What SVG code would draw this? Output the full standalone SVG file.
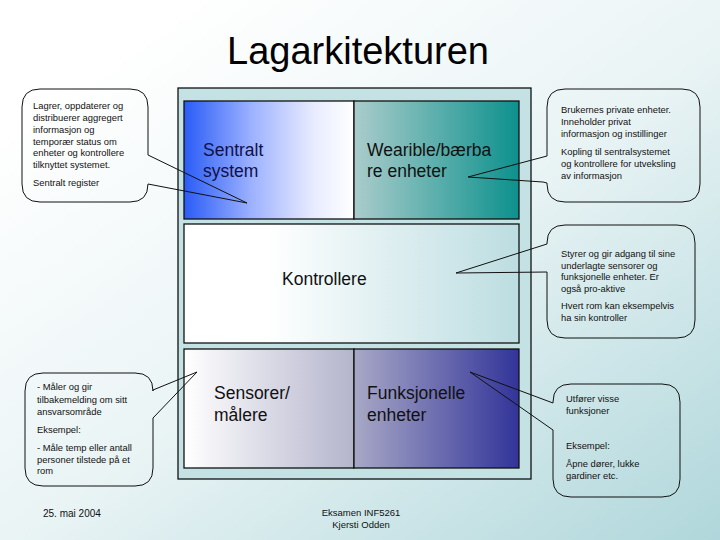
<svg xmlns="http://www.w3.org/2000/svg" width="720" height="540" viewBox="0 0 720 540">
  <defs>
    <linearGradient id="bg" x1="0.15" y1="0.1" x2="1" y2="1">
      <stop offset="0" stop-color="#ffffff"/>
      <stop offset="0.45" stop-color="#eaf4f5"/>
      <stop offset="1" stop-color="#b0d7db"/>
    </linearGradient>
    <linearGradient id="gSentralt" x1="0" y1="0" x2="1" y2="0">
      <stop offset="0" stop-color="#2a5cf6"/>
      <stop offset="0.4" stop-color="#9db2ff"/>
      <stop offset="0.75" stop-color="#e6eaff"/>
      <stop offset="1" stop-color="#ffffff"/>
    </linearGradient>
    <linearGradient id="gWear" x1="0" y1="0" x2="1" y2="0">
      <stop offset="0" stop-color="#aacccb"/>
      <stop offset="1" stop-color="#0d918d"/>
    </linearGradient>
    <linearGradient id="gKontr" x1="0" y1="0" x2="1" y2="0">
      <stop offset="0" stop-color="#ffffff"/>
      <stop offset="0.25" stop-color="#ffffff"/>
      <stop offset="1" stop-color="#bcdde1"/>
    </linearGradient>
    <linearGradient id="gSens" x1="0" y1="0" x2="1" y2="0">
      <stop offset="0" stop-color="#ffffff"/>
      <stop offset="1" stop-color="#b4b4cc"/>
    </linearGradient>
    <linearGradient id="gFunk" x1="0" y1="0" x2="1" y2="0">
      <stop offset="0" stop-color="#a8a8c6"/>
      <stop offset="1" stop-color="#323499"/>
    </linearGradient>
    <style>
      .box { stroke: #111; stroke-width: 1.3; }
      .big { font-family: "Liberation Sans", Arial, sans-serif; font-size: 17.5px; fill: #111; }
      .navy { fill: #10104a; }
      .small { font-family: "Liberation Sans", Arial, sans-serif; font-size: 9.4px; fill: #111; }
      .callout { fill: none; stroke: #111; stroke-width: 1; }
      .conn { fill: none; stroke: #111; stroke-width: 1; stroke-linejoin: miter; }
    </style>
  </defs>

  <rect x="0" y="0" width="720" height="540" fill="url(#bg)"/>

  <text x="358" y="64" text-anchor="middle" font-family="Liberation Sans, Arial, sans-serif" font-size="38" fill="#000">Lagarkitekturen</text>

  <g id="container">
    <rect x="178" y="88" width="353" height="391" fill="#c4e1e4" class="box"/>
  </g>

  <g id="sentralt">
    <rect x="184" y="101" width="170" height="118" fill="url(#gSentralt)" class="box"/>
    <text class="big navy" x="203" y="156">Sentralt</text>
    <text class="big navy" x="203" y="177">system</text>
  </g>

  <g id="wearible">
    <rect x="354" y="101" width="165" height="118" fill="url(#gWear)" class="box"/>
    <text class="big" x="367" y="156">Wearible/bærba</text>
    <text class="big" x="367" y="177">re enheter</text>
  </g>

  <g id="kontrollere">
    <rect x="184" y="224" width="335" height="119" fill="url(#gKontr)" class="box"/>
    <text class="big" x="282" y="285">Kontrollere</text>
  </g>

  <g id="sensorer">
    <rect x="184" y="349" width="170" height="119" fill="url(#gSens)" class="box"/>
    <text class="big" x="214" y="399">Sensorer/</text>
    <text class="big" x="214" y="421">målere</text>
  </g>

  <g id="funksjonelle">
    <rect x="354" y="349" width="165" height="119" fill="url(#gFunk)" class="box"/>
    <text class="big" x="367" y="399">Funksjonelle</text>
    <text class="big" x="367" y="421">enheter</text>
  </g>

  <g id="callout-sentralt">
    <path class="callout" d="M148,184 V184 Q148,202 130,202 H40 Q22,202 22,184 V107 Q22,89 40,89 H130 Q148,89 148,107 V155"/>
    <text class="small" x="33" y="109">Lagrer, oppdaterer og</text>
    <text class="small" x="33" y="121">distribuerer aggregert</text>
    <text class="small" x="33" y="133">informasjon og</text>
    <text class="small" x="33" y="144.5">temporær status om</text>
    <text class="small" x="33" y="156">enheter og kontrollere</text>
    <text class="small" x="33" y="168">tilknyttet systemet.</text>
    <text class="small" x="33" y="186">Sentralt register</text>
  </g>

  <g id="callout-wearible">
    <path class="callout" d="M547,156 V107 Q547,89 565,89 H682 Q700,89 700,107 V184 Q700,202 682,202 H565 Q547,202 547,184 V183"/>
    <text class="small" x="561" y="113">Brukernes private enheter.</text>
    <text class="small" x="561" y="125">Inneholder privat</text>
    <text class="small" x="561" y="137">informasjon og instillinger</text>
    <text class="small" x="561" y="155">Kopling  til sentralsystemet</text>
    <text class="small" x="561" y="167">og kontrollere for utveksling</text>
    <text class="small" x="561" y="178.5">av informasjon</text>
  </g>

  <g id="callout-kontrollere">
    <path class="callout" d="M547,244 V243 Q547,225 565,225 H677 Q695,225 695,243 V320 Q695,338 677,338 H565 Q547,338 547,320 V272"/>
    <text class="small" x="561" y="256.5">Styrer og gir adgang til sine</text>
    <text class="small" x="561" y="268.5">underlagte sensorer og</text>
    <text class="small" x="561" y="280">funksjonelle enheter. Er</text>
    <text class="small" x="561" y="291.5">også pro-aktive</text>
    <text class="small" x="561" y="308.5">Hvert rom kan eksempelvis</text>
    <text class="small" x="561" y="320.5">ha sin kontroller</text>
  </g>

  <g id="callout-sensorer">
    <path class="callout" d="M153,418 V468 Q153,486 135,486 H43 Q25,486 25,468 V391 Q25,373 43,373 H135 Q153,373 153,391 V390"/>
    <text class="small" x="37" y="390">- Måler og gir</text>
    <text class="small" x="37" y="403">tilbakemelding om sitt</text>
    <text class="small" x="37" y="414.5">ansvarsområde</text>
    <text class="small" x="37" y="433">Eksempel:</text>
    <text class="small" x="37" y="451">- Måle temp eller antall</text>
    <text class="small" x="37" y="462.5">personer tilstede på et</text>
    <text class="small" x="37" y="474">rom</text>
  </g>

  <g id="callout-funksjonelle">
    <path class="callout" d="M553,403 V402 Q553,384 571,384 H662 Q680,384 680,402 V479 Q680,497 662,497 H571 Q553,497 553,479 V430"/>
    <text class="small" x="566" y="401.5">Utfører visse</text>
    <text class="small" x="566" y="413.5">funksjoner</text>
    <text class="small" x="566" y="448.5">Eksempel:</text>
    <text class="small" x="566" y="467">Åpne dører, lukke</text>
    <text class="small" x="566" y="478.5">gardiner etc.</text>
  </g>

  <g id="connectors">
    <polyline class="conn" points="148,155 247,203 148,184"/>
    <polyline class="conn" points="547,156 468,177 543,182 547,183"/>
    <polyline class="conn" points="547,244 456,273 547,272"/>
    <polyline class="conn" points="153,390 197,372 153,418"/>
    <polyline class="conn" points="553,403 470,372 553,430"/>
  </g>

  <g id="footer">
    <text x="43" y="517" font-family="Liberation Sans, Arial, sans-serif" font-size="10" fill="#111">25. mai 2004</text>
    <text x="361" y="516" text-anchor="middle" font-family="Liberation Sans, Arial, sans-serif" font-size="9.5" fill="#111">Eksamen INF5261</text>
    <text x="361" y="527.5" text-anchor="middle" font-family="Liberation Sans, Arial, sans-serif" font-size="9.5" fill="#111">Kjersti Odden</text>
  </g>
</svg>
